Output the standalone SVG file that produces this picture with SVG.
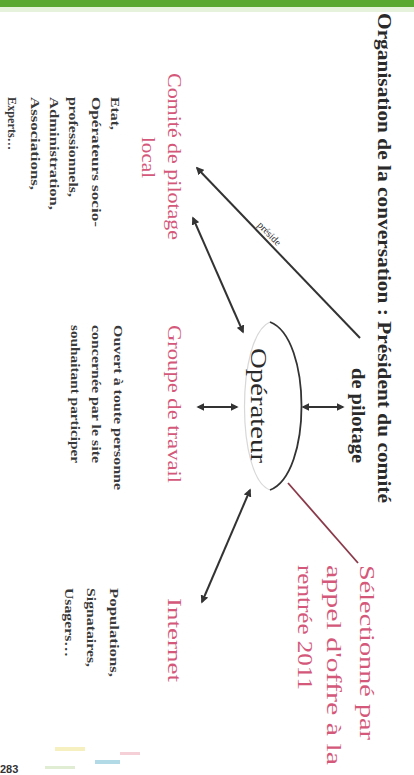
<svg xmlns="http://www.w3.org/2000/svg" width="414" height="775" viewBox="0 0 414 775">
  <style>
    .t { font-family: "Liberation Serif", "Times New Roman", serif; fill: #2a2a2a; }
    .title { font-size: 18px; font-weight: bold; }
    .pink { fill: #d4587a; }
    .head { font-size: 19px; }
    .list { font-size: 12px; font-weight: bold; fill: #3a3a3a; }
    .big { font-size: 24px; }
    .sel { font-size: 22px; }
    .conn { stroke: #333; stroke-width: 2; fill: none; }
  </style>
  <defs>
    <marker id="ah" viewBox="0 0 10 10" refX="8" refY="5" markerWidth="4" markerHeight="4" orient="auto-start-reverse">
      <path d="M0,0 L10,5 L0,10 z" fill="#333"/>
    </marker>
  </defs>
  <rect width="414" height="775" fill="#ffffff"/>
  <g id="header-bar">
    <rect x="0" y="0" width="414" height="7" fill="#5aa832"/>
    <rect x="0" y="7" width="414" height="5" fill="#e6f2dc"/>
  </g>

  <g id="title">
    <text class="t title" transform="translate(378,13) rotate(90)" textLength="490" lengthAdjust="spacingAndGlyphs">Organisation de la conversation : Président du comité</text>
    <text class="t title" transform="translate(352,368) rotate(90)" textLength="95" lengthAdjust="spacingAndGlyphs">de pilotage</text>
  </g>

  <g id="comite">
    <text class="t pink head" transform="translate(168,73) rotate(90)" textLength="167" lengthAdjust="spacingAndGlyphs">Comité de pilotage</text>
    <text class="t pink head" transform="translate(142,137) rotate(90)" textLength="41" lengthAdjust="spacingAndGlyphs">local</text>
    <text class="t list" transform="translate(111,97) rotate(90)" textLength="33" lengthAdjust="spacingAndGlyphs">Etat,</text>
    <text class="t list" transform="translate(92,97) rotate(90)" textLength="130" lengthAdjust="spacingAndGlyphs">Opérateurs socio-</text>
    <text class="t list" transform="translate(69,97) rotate(90)" textLength="100" lengthAdjust="spacingAndGlyphs">professionnels,</text>
    <text class="t list" transform="translate(50,97) rotate(90)" textLength="113" lengthAdjust="spacingAndGlyphs">Administration,</text>
    <text class="t list" transform="translate(31,97) rotate(90)" textLength="93" lengthAdjust="spacingAndGlyphs">Associations,</text>
    <text class="t list" transform="translate(8,97) rotate(90)" textLength="53" lengthAdjust="spacingAndGlyphs">Experts…</text>
  </g>

  <g id="groupe">
    <text class="t pink head" transform="translate(168,325) rotate(90)" textLength="158" lengthAdjust="spacingAndGlyphs">Groupe de travail</text>
    <text class="t list" transform="translate(114,325) rotate(90)" textLength="165" lengthAdjust="spacingAndGlyphs">Ouvert à toute personne</text>
    <text class="t list" transform="translate(92,325) rotate(90)" textLength="138" lengthAdjust="spacingAndGlyphs">concernée par le site</text>
    <text class="t list" transform="translate(71,325) rotate(90)" textLength="138" lengthAdjust="spacingAndGlyphs">souhaitant participer</text>
  </g>

  <g id="operateur">
    <path d="M270,322 C236,336 236,478 270,490" fill="none" stroke="#d8d8d8" stroke-width="1.2"/>
    <path d="M270,322 C312,338 312,474 270,490" fill="none" stroke="#333" stroke-width="1.8"/>
    <text class="t big" transform="translate(251,348) rotate(90)" textLength="115" lengthAdjust="spacingAndGlyphs">Opérateur</text>
  </g>

  <g id="internet">
    <text class="t pink head" transform="translate(168,598) rotate(90)" textLength="84" lengthAdjust="spacingAndGlyphs">Internet</text>
    <text class="t list" transform="translate(110,588) rotate(90)" textLength="89" lengthAdjust="spacingAndGlyphs">Populations,</text>
    <text class="t list" transform="translate(87,588) rotate(90)" textLength="79" lengthAdjust="spacingAndGlyphs">Signataires,</text>
    <text class="t list" transform="translate(65,588) rotate(90)" textLength="69" lengthAdjust="spacingAndGlyphs">Usagers…</text>
  </g>

  <g id="selection">
    <text class="t pink sel" transform="translate(360,565) rotate(90)" textLength="175" lengthAdjust="spacingAndGlyphs">Sélectionné par</text>
    <text class="t pink sel" transform="translate(327,565) rotate(90)" textLength="200" lengthAdjust="spacingAndGlyphs">appel d'offre à la</text>
    <text class="t pink sel" transform="translate(298,565) rotate(90)" textLength="125" lengthAdjust="spacingAndGlyphs">rentrée 2011</text>
  </g>

  <g id="connectors">
    <line class="conn" x1="360" y1="338" x2="197" y2="168" marker-end="url(#ah)"/>
    <text class="t" font-size="10" text-anchor="middle" transform="translate(267,236) rotate(46)">préside</text>
    <line class="conn" x1="193" y1="218" x2="243" y2="332" marker-start="url(#ah)" marker-end="url(#ah)"/>
    <line class="conn" x1="198" y1="407" x2="237" y2="407" marker-start="url(#ah)" marker-end="url(#ah)"/>
    <line class="conn" x1="303" y1="407" x2="343" y2="407" marker-start="url(#ah)" marker-end="url(#ah)"/>
    <line class="conn" x1="250" y1="490" x2="202" y2="602" marker-start="url(#ah)" marker-end="url(#ah)"/>
    <line x1="288" y1="483" x2="358" y2="563" stroke="#8a3a4a" stroke-width="1.8"/>
  </g>

  <g id="footer">
    <text x="0" y="773" font-family="Liberation Sans, Arial, sans-serif" font-size="11" font-weight="bold" fill="#333">283</text>
    <rect x="55" y="747" width="30" height="4" fill="#f4ecb0" opacity="0.8"/>
    <rect x="95" y="760" width="25" height="4" fill="#9fd0e0" opacity="0.8"/>
    <rect x="120" y="752" width="20" height="3" fill="#f2c4cc" opacity="0.8"/>
    <rect x="45" y="766" width="30" height="3" fill="#d8e8c8" opacity="0.8"/>
  </g>
</svg>
